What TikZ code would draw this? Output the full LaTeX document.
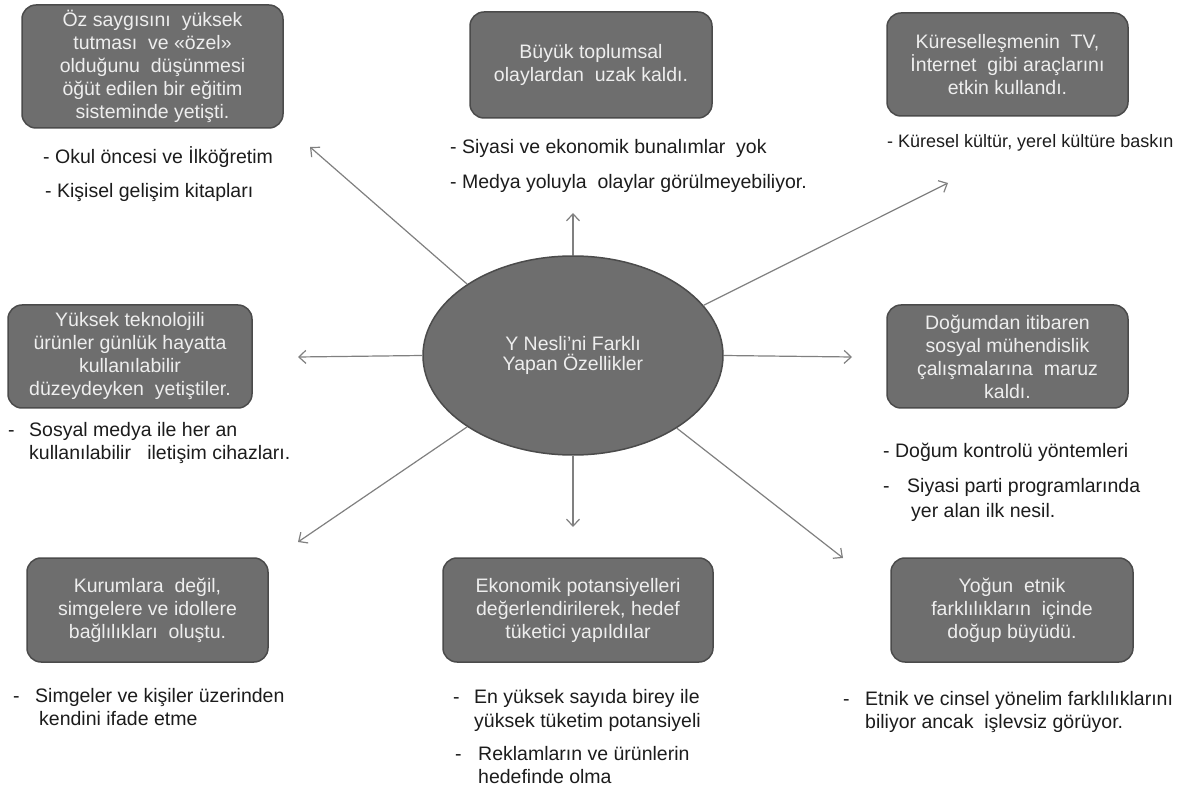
\documentclass[tikz,border=0pt]{standalone}
\usepackage{fontspec}
\setmainfont{Liberation Sans}
\usetikzlibrary{arrows.meta,shapes.geometric}
\definecolor{boxfill}{RGB}{110,110,110}
\definecolor{boxline}{RGB}{75,75,75}
\definecolor{boxtext}{RGB}{238,238,238}
\definecolor{arrowcol}{RGB}{128,128,128}
\definecolor{bultext}{RGB}{28,28,28}
\tikzset{
  card/.style={draw=boxline, fill=boxfill, line width=1.5pt, rounded corners=14pt,
    text=boxtext, align=center, inner sep=0pt,
    font=\fontsize{19.5}{23}\selectfont},
  hub/.style={ellipse, draw=boxline, fill=boxfill, line width=1.5pt, text=boxtext,
    align=center, inner sep=0pt, minimum width=300pt, minimum height=199pt,
    font=\fontsize{19.5}{23}\selectfont},
  bul/.style={anchor=base west, inner sep=0pt, text=bultext,
    font=\fontsize{19.5}{23}\selectfont},
  link/.style={draw=arrowcol, line width=1.2pt,
    -{Straight Barb[length=7pt,width=13pt,line width=1.2pt]}}
}
\begin{document}
\begin{tikzpicture}[x=1pt,y=-1pt]
\useasboundingbox[fill=white] (0,0) rectangle (1192,791);

% central ellipse
\node[hub] (c) at (573,355.5) {\raisebox{-4pt}{\shortstack{Y Nesli’ni Farklı\\[1pt]Yapan Özellikler}}};

% boxes
\node[card, minimum width=261pt, minimum height=123pt] (k1) at (152.5,66.5)
  {Öz saygısını\ \ yüksek\\tutması\ \ ve «özel»\\olduğunu\ \ düşünmesi\\öğüt edilen bir eğitim\\sisteminde yetişti.};
\node[card, minimum width=242pt, minimum height=106pt] (k2) at (591,65)
  {Büyük toplumsal\\olaylardan\ \ uzak kaldı.};
\node[card, minimum width=241pt, minimum height=103pt] (k3) at (1007.5,64.5)
  {Küreselleşmenin\ \ TV,\\İnternet\ \ gibi araçlarını\\etkin kullandı.};
\node[card, minimum width=244pt, minimum height=103pt] (k4) at (130,356.5)
  {Yüksek teknolojili\\ürünler\ günlük\ hayatta\\kullanılabilir\\düzeydeyken\ \ yetiştiler.};
\node[card, minimum width=241pt, minimum height=103pt] (k5) at (1007.5,356.5)
  {Doğumdan itibaren\\sosyal mühendislik\\çalışmalarına\ \ maruz\\kaldı.};
\node[card, minimum width=241pt, minimum height=104pt] (k6) at (147.5,610)
  {Kurumlara\ \ değil,\\simgelere ve idollere\\bağlılıkları\ \ oluştu.};
\node[card, minimum width=270pt, minimum height=104pt] (k7) at (578,610)
  {Ekonomik potansiyelleri\\değerlendirilerek, hedef\\tüketici yapıldılar};
\node[card, minimum width=242pt, minimum height=104pt] (k8) at (1012,610)
  {Yoğun\ \ etnik\\farklılıkların\ \ içinde\\doğup büyüdü.};

% bullet texts
\node[bul] (b1a) at (43,164) {- Okul öncesi ve İlköğretim};
\node[bul] (b1b) at (45,198) {- Kişisel gelişim kitapları};
\node[bul] (b2a) at (450,154) {- Siyasi ve ekonomik bunalımlar\ \ yok};
\node[bul] (b2b) at (450,189) {- Medya yoluyla\ \ olaylar görülmeyebiliyor.};
\node[bul, font=\fontsize{18}{21}\selectfont] (b3a) at (887,148) {- Küresel kültür, yerel kültüre baskın};
\node[bul] (b4d) at (8,437) {-};
\node[bul] (b4a) at (29,437) {Sosyal medya ile her an};
\node[bul] (b4b) at (29,460) {kullanılabilir\ \ \ iletişim cihazları.};
\node[bul] (b5a) at (883,457) {- Doğum kontrolü yöntemleri};
\node[bul] (b5d) at (883,493) {-};
\node[bul] (b5b) at (907,493) {Siyasi parti programlarında};
\node[bul] (b5c) at (911,517) {yer alan ilk nesil.};
\node[bul] (b6d) at (13,702) {-};
\node[bul] (b6a) at (35,702) {Simgeler ve kişiler üzerinden};
\node[bul] (b6b) at (39,725) {kendini ifade etme};
\node[bul] (b7d) at (453,703) {-};
\node[bul] (b7a) at (474,703) {En yüksek sayıda birey ile};
\node[bul] (b7b) at (474,727) {yüksek tüketim potansiyeli};
\node[bul] (b7e) at (455,760) {-};
\node[bul] (b7c) at (478,760) {Reklamların ve ürünlerin};
\node[bul] (b7f) at (478,783) {hedefinde olma};
\node[bul] (b8d) at (843,705) {-};
\node[bul] (b8a) at (865,705) {Etnik ve cinsel yönelim farklılıklarını};
\node[bul] (b8b) at (865,728) {biliyor ancak\ \ işlevsiz görüyor.};

% arrow tips
\coordinate (t1) at (310,147);
\coordinate (t2) at (573,213);
\coordinate (t3) at (948,183);
\coordinate (t4) at (298,357);
\coordinate (t5) at (852,357);
\coordinate (t6) at (298,542);
\coordinate (t7) at (573,527);
\coordinate (t8) at (843,558);

\draw[link] (c.146) -- (t1);
\draw[link] (c.90) -- (t2);
\draw[link] (c.21) -- (t3);
\draw[link] (c.180) -- (t4);
\draw[link] (c.0) -- (t5);
\draw[link] (c.214.6) -- (t6);
\draw[link] (c.270) -- (t7);
\draw[link] (c.325) -- (t8);
\end{tikzpicture}
\end{document}
